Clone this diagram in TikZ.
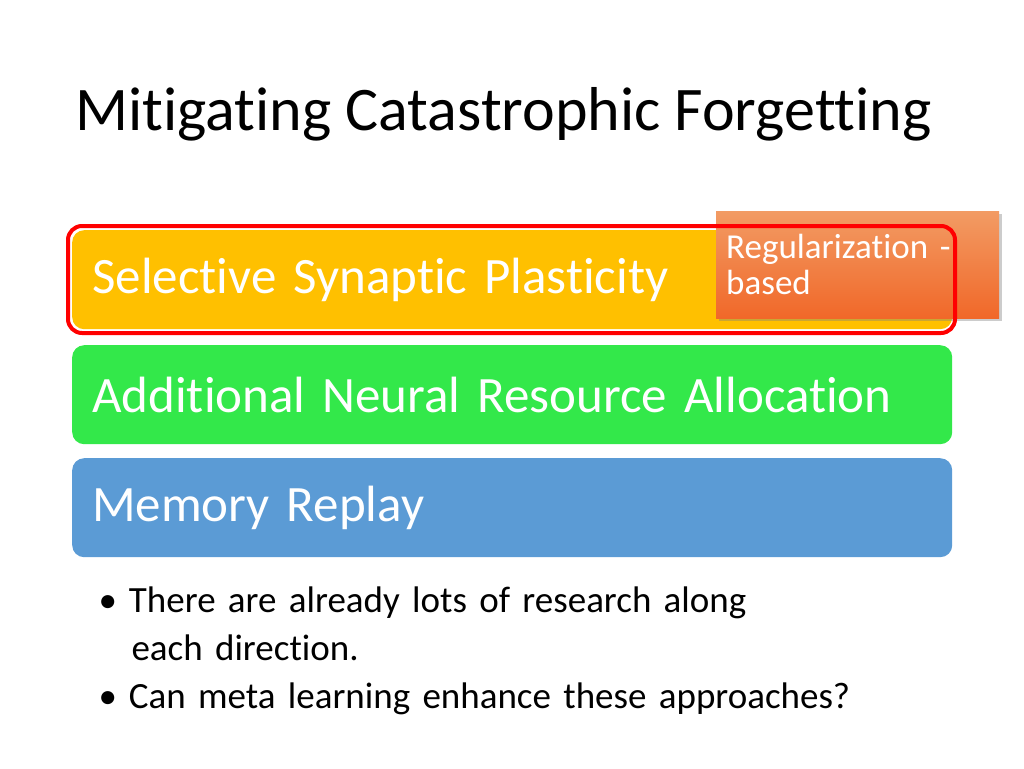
\documentclass[tikz,border=0pt]{standalone}
\usepackage{fontspec}
\setmainfont{Carlito}[Ligatures=CommonOff]
\usetikzlibrary{positioning,shadows}
\definecolor{boxyellow}{HTML}{FFC000}
\definecolor{boxgreen}{HTML}{33E84A}
\definecolor{boxblue}{HTML}{5B9BD5}
\definecolor{tagorange}{HTML}{EE7A30}
\tikzset{band/.style={rounded corners=12pt, minimum width=880pt, minimum height=99pt,
  text width=840pt, inner xsep=20pt, align=left, text=white, font=\fontsize{51}{55}\selectfont, anchor=north west},
  tag/.style={minimum width=283pt, minimum height=107pt, text width=263pt, inner xsep=10pt, align=left,
  text=white, font=\fontsize{35}{42}\selectfont, anchor=north west, drop shadow={opacity=0.4}}}
\begin{document}
\begin{tikzpicture}[x=1pt,y=-1pt]
\useasboundingbox (0,0) rectangle (1024,768);
\node[font=\fontsize{62}{66}\selectfont, anchor=west] (title) at (72,114) {Mitigating Catastrophic Forgetting};
\node[band, fill=boxyellow] (ssp) at (72,230) {Selective Synaptic Plasticity};
\node[band, fill=boxgreen] (nra) at (72,345) {Additional Neural Resource Allocation};
\node[band, fill=boxblue] (mr) at (72,458) {Memory Replay};
\node[tag, top color=tagorange!75!white, bottom color=tagorange!85!red] (reg) at (716,211) {Regularization -\\[-6pt]based};
\draw[red, line width=4pt, rounded corners=14pt] (68,226) rectangle (955,333);
\node[anchor=north west, text width=840pt, font=\fontsize{37}{48}\selectfont, align=left] (notes) at (95,583)
 {\textbullet\hspace{12pt}There are already lots of research along\\
  \hspace{33pt}each direction.\\
  \textbullet\hspace{12pt}Can meta learning enhance these approaches?};
\end{tikzpicture}
\end{document}
